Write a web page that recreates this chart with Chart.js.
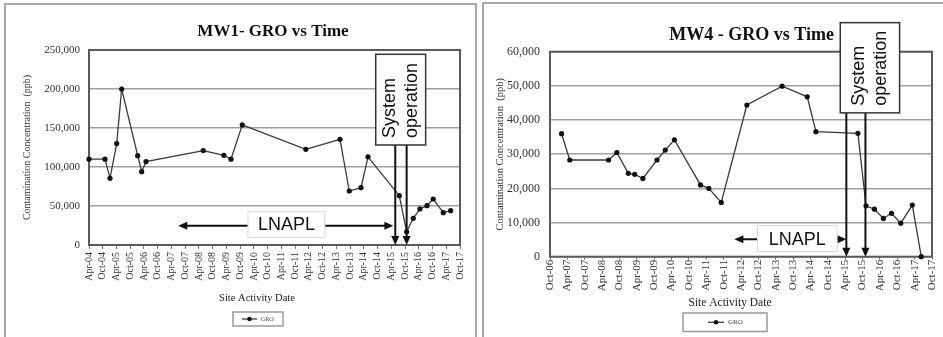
<!DOCTYPE html>
<html lang="en">
<head>
<meta charset="UTF-8" />
<title>GRO vs Time</title>
<script src="https://cdn.jsdelivr.net/npm/chart.js"></script>
<style>
  html, body { margin: 0; background: #fff; overflow: hidden; }
  #page { position: relative; width: 943px; height: 337px; overflow: hidden; background: #fff; }
  .panel { position: absolute; border-style: solid; border-color: #a8a8a8; }
  #p1 { left: 4px; top: 3px; width: 469px; height: 340px; border-width: 2px 2px 0 2px; }
  #p2 { left: 482px; top: 2px; width: 459px; height: 340px; border-width: 2px 0 0 2px; }
  canvas { position: absolute; top: 0; }
  #mw1 { left: 0; }
  #mw4 { left: 482px; }
</style>
</head>
<body>
<div id="page">
  <div class="panel" id="p1"></div>
  <div class="panel" id="p2"></div>
  <canvas id="mw1" width="476" height="337"></canvas>
  <canvas id="mw4" width="461" height="337"></canvas>
</div>

<script>
  const SERIF = 'Liberation Serif';
  const SANS = 'Liberation Sans';

  // MW1 data
  const mw1Ticks = ['Apr-04', 'Oct-04', 'Apr-05', 'Oct-05', 'Apr-06', 'Oct-06', 'Apr-07', 'Oct-07',
    'Apr-08', 'Oct-08', 'Apr-09', 'Oct-09', 'Apr-10', 'Oct-10', 'Apr-11', 'Oct-11', 'Apr-12', 'Oct-12',
    'Apr-13', 'Oct-13', 'Apr-14', 'Oct-14', 'Apr-15', 'Oct-15', 'Apr-16', 'Oct-16', 'Apr-17', 'Oct-17'];
  const mw1Dates = ['2004-04-01', '2004-11-01', '2005-01-06', '2005-04-04', '2005-06-09', '2006-01-09',
    '2006-03-01', '2006-04-28', '2008-05-28', '2009-02-28', '2009-06-01', '2009-10-29', '2012-02-21',
    '2013-05-19', '2013-09-21', '2014-02-24', '2014-05-26', '2015-07-16', '2015-10-22', '2016-01-19',
    '2016-04-16', '2016-07-19', '2016-10-10', '2017-02-22', '2017-05-28'];
  const mw1Gro = [110000, 110000, 85500, 130000, 200000, 114500, 94000, 107000, 121000, 115000, 110000,
    154000, 122700, 135500, 69200, 73500, 113000, 63200, 17000, 34200, 46200, 50400, 59000, 41400, 44000];

  // MW4 data
  const mw4Ticks = ['Oct-06', 'Apr-07', 'Oct-07', 'Apr-08', 'Oct-08', 'Apr-09', 'Oct-09', 'Apr-10',
    'Oct-10', 'Apr-11', 'Oct-11', 'Apr-12', 'Oct-12', 'Apr-13', 'Oct-13', 'Apr-14', 'Oct-14', 'Apr-15',
    'Oct-15', 'Apr-16', 'Oct-16', 'Apr-17', 'Oct-17'];
  const mw4Dates = ['2007-02-01', '2007-04-26', '2008-06-08', '2008-09-04', '2009-01-03', '2009-03-09',
    '2009-06-04', '2009-10-30', '2010-01-26', '2010-05-01', '2011-01-31', '2011-04-27', '2011-09-06',
    '2012-06-02', '2013-06-07', '2014-02-28', '2014-05-28', '2015-08-13', '2015-11-07', '2016-02-04',
    '2016-05-07', '2016-08-01', '2016-11-07', '2017-03-07', '2017-06-10'];
  const mw4Gro = [36000, 28300, 28300, 30500, 24400, 24100, 22900, 28300, 31200, 34200, 21000, 20000,
    15900, 44400, 49900, 46800, 36600, 36100, 14900, 13900, 11200, 12700, 9800, 15100, 0];

  // months after the first tick label (dates like 2004-04 or 2004-04-15)
  function monthsSince(start, d) {
    const [y0, m0] = start.split('-').map(Number);
    const [y, m, day] = d.split('-').map(Number);
    return (y - y0) * 12 + (m - m0) + ((day || 1) - 1) / 30;
  }

  // call-outs, x as dates and y in ppb, plus placement of the text round the plot
  const notes = {
    mw1: {
      start: '2004-04',
      title: { text: 'MW1- GRO vs Time', x: 273, y: 32, size: 17 },
      sysBox: { from: '2014-09-07', to: '2016-07-01', top: 244500, bottom: 128200 },
      sysLines: ['2015-05-23', '2015-10-22'],
      lnapl: { from: '2007-07-01', to: '2015-04-28', y: 24700,
               boxFrom: '2010-01-13', boxTo: '2012-11-01', boxTop: 42700, boxBottom: 9900 },
      xTitle: { x: 257, y: 298, size: 10.5 },
      legend: { left: 233, top: 312, width: 50, height: 14, lineFrom: 9, lineTo: 24, textAt: 28, size: 6 }
    },
    mw4: {
      start: '2006-10',
      title: { text: 'MW4 - GRO vs Time', x: 269.7, y: 35, size: 18 },
      sysBox: { from: '2015-02-10', to: '2016-10-25', top: 68500, bottom: 42100 },
      sysLines: ['2015-04-13', '2015-11-01'],
      lnapl: { from: '2012-01-22', to: '2015-04-13', y: 5100,
               boxFrom: '2012-09-22', boxTo: '2015-01-07', boxTop: 9100, boxBottom: 1500 },
      xTitle: { x: 248, y: 303, size: 11.5 },
      legend: { left: 201, top: 313, width: 84, height: 18.5, lineFrom: 25, lineTo: 41, textAt: 45, size: 7 }
    }
  };

  function arrowHead(ctx, x, y, dir) {
    const L = 9, W = 4;
    ctx.beginPath();
    ctx.moveTo(x, y);
    if (dir === 'down') { ctx.lineTo(x - W, y - L); ctx.lineTo(x + W, y - L); }
    if (dir === 'left') { ctx.lineTo(x + L, y - W); ctx.lineTo(x + L, y + W); }
    if (dir === 'right') { ctx.lineTo(x - L, y - W); ctx.lineTo(x - L, y + W); }
    ctx.closePath();
    ctx.fill();
  }

  const notesPlugin = {
    id: 'notes',
    beforeDatasetsDraw(chart) {
      const { ctx, chartArea: a } = chart;
      ctx.save();
      ctx.strokeStyle = '#5a5a5a';
      ctx.lineWidth = 2;
      ctx.strokeRect(a.left, a.top, a.right - a.left, a.bottom - a.top);
      ctx.restore();
    },
    afterDraw(chart) {
      const n = notes[chart.canvas.id];
      const { ctx, chartArea: a } = chart;
      const xs = chart.scales.x, ys = chart.scales.y;
      const px = d => xs.getPixelForValue(monthsSince(n.start, d));
      const py = v => ys.getPixelForValue(v);

      // chart title
      ctx.save();
      ctx.fillStyle = '#111';
      ctx.font = 'bold ' + n.title.size + 'px "' + SERIF + '"';
      ctx.textAlign = 'center';
      ctx.textBaseline = 'middle';
      ctx.fillText(n.title.text, n.title.x, n.title.y);

      ctx.strokeStyle = '#111';
      ctx.lineWidth = 2;

      // LNAPL double arrow with label box
      const L = n.lnapl, ly = py(L.y);
      ctx.beginPath();
      ctx.moveTo(px(L.from) + 8, ly);
      ctx.lineTo(px(L.to) - 8, ly);
      ctx.stroke();
      arrowHead(ctx, px(L.from), ly, 'left');
      arrowHead(ctx, px(L.to), ly, 'right');
      const bx0 = px(L.boxFrom), bx1 = px(L.boxTo), by0 = py(L.boxTop), by1 = py(L.boxBottom);
      ctx.fillStyle = '#fff';
      ctx.fillRect(bx0, by0, bx1 - bx0, by1 - by0);
      ctx.strokeStyle = '#d8d8d8';
      ctx.lineWidth = 1;
      ctx.strokeRect(bx0, by0, bx1 - bx0, by1 - by0);
      ctx.fillStyle = '#111';
      ctx.font = '18px "' + SANS + '"';
      ctx.fillText('LNAPL', (bx0 + bx1) / 2, (by0 + by1) / 2 + 1);

      // system operation box and its two arrows
      const S = n.sysBox;
      const sx0 = px(S.from), sx1 = px(S.to), sy0 = py(S.top), sy1 = py(S.bottom);
      ctx.strokeStyle = '#111';
      ctx.lineWidth = 2;
      n.sysLines.forEach(d => {
        const x = px(d);
        ctx.beginPath();
        ctx.moveTo(x, sy1);
        ctx.lineTo(x, a.bottom - 8);
        ctx.stroke();
        arrowHead(ctx, x, a.bottom, 'down');
      });
      ctx.fillStyle = '#fff';
      ctx.fillRect(sx0, sy0, sx1 - sx0, sy1 - sy0);
      ctx.strokeStyle = '#333';
      ctx.lineWidth = 1.5;
      ctx.strokeRect(sx0, sy0, sx1 - sx0, sy1 - sy0);
      ctx.fillStyle = '#111';
      ctx.font = '18px "' + SANS + '"';
      ctx.translate((sx0 + sx1) / 2, sy1 - 7);
      ctx.rotate(-Math.PI / 2);
      ctx.textAlign = 'left';
      ctx.fillText('System', 0, -11);
      ctx.fillText('operation', 0, 11);
      ctx.restore();

      // axis title and legend under the plot
      ctx.save();
      ctx.fillStyle = '#222';
      ctx.font = n.xTitle.size + 'px "' + SERIF + '"';
      ctx.textAlign = 'center';
      ctx.textBaseline = 'middle';
      ctx.fillText('Site Activity Date', n.xTitle.x, n.xTitle.y);
      const g = n.legend, ds = chart.data.datasets[0], gy = g.top + g.height / 2;
      ctx.strokeStyle = '#9a9a9a';
      ctx.lineWidth = 1.5;
      ctx.strokeRect(g.left, g.top, g.width, g.height);
      ctx.strokeStyle = ds.borderColor;
      ctx.lineWidth = 1.3;
      ctx.beginPath();
      ctx.moveTo(g.left + g.lineFrom, gy);
      ctx.lineTo(g.left + g.lineTo, gy);
      ctx.stroke();
      ctx.fillStyle = ds.pointBackgroundColor;
      ctx.beginPath();
      ctx.arc(g.left + (g.lineFrom + g.lineTo) / 2, gy, 2.3, 0, Math.PI * 2);
      ctx.fill();
      ctx.fillStyle = '#444';
      ctx.font = g.size + 'px "' + SERIF + '"';
      ctx.textAlign = 'left';
      ctx.fillText(ds.label, g.left + g.textAt, gy);
      ctx.restore();
    }
  };

  function makeChart(id, o) {
    const points = o.dates.map((d, i) => ({ x: monthsSince(o.start, d), y: o.values[i] }));
    return new Chart(document.getElementById(id), {
      type: 'line',
      data: {
        datasets: [{
          label: 'GRO',
          data: points,
          borderColor: '#3a3a3a',
          borderWidth: 1.3,
          pointRadius: 2.6,
          pointBackgroundColor: '#111',
          pointBorderWidth: 0,
          tension: 0,
          clip: false
        }]
      },
      options: {
        responsive: false,
        animation: false,
        layout: { padding: { left: 0, right: o.padRight, top: o.padTop, bottom: 0 } },
        plugins: {
          legend: { display: false },
          tooltip: { enabled: false },
          title: { display: false }
        },
        scales: {
          x: {
            type: 'linear',
            min: 0,
            max: (o.ticks.length - 1) * 6,
            afterFit: s => { s.height = o.xHeight; },
            border: { display: false },
            grid: { drawOnChartArea: false, drawTicks: true, tickLength: o.tickLen, color: '#777' },
            ticks: {
              stepSize: 6,
              autoSkip: false,
              minRotation: 90,
              maxRotation: 90,
              padding: o.tickPad,
              color: '#333',
              font: { family: SERIF, size: o.xTickSize, lineHeight: 1 },
              callback: v => o.ticks[Math.round(v / 6)] || ''
            }
          },
          y: {
            min: 0,
            max: o.yMax,
            afterFit: s => { s.width = o.yWidth; },
            border: { display: false },
            grid: { color: '#a0a0a0', lineWidth: 1.5, drawTicks: false },
            ticks: {
              stepSize: o.yStep,
              padding: o.yPad,
              color: '#333',
              font: { family: SERIF, size: o.yTickSize },
              callback: v => v.toLocaleString('en-US')
            },
            title: {
              display: true,
              text: 'Contamination Concentration  (ppb)',
              color: '#333',
              font: { family: SERIF, size: o.yTitleSize },
              padding: { top: o.yTitleOffset, bottom: 0 }
            }
          }
        }
      },
      plugins: [notesPlugin]
    });
  }

  makeChart('mw1', {
    start: '2004-04', ticks: mw1Ticks, dates: mw1Dates, values: mw1Gro,
    yMax: 250000, yStep: 50000, yWidth: 89, xHeight: 92, padRight: 16, padTop: 50,
    tickLen: 4, tickPad: 3, xTickSize: 10, yTickSize: 11, yPad: 9, yTitleSize: 10, yTitleOffset: 21
  });

  makeChart('mw4', {
    start: '2006-10', ticks: mw4Ticks, dates: mw4Dates, values: mw4Gro,
    yMax: 60000, yStep: 10000, yWidth: 68, xHeight: 80.3, padRight: 6.3, padTop: 51.7,
    tickLen: 3, tickPad: 0, xTickSize: 11, yTickSize: 12, yPad: 10, yTitleSize: 10.5, yTitleOffset: 11.7
  });
</script>
</body>
</html>
